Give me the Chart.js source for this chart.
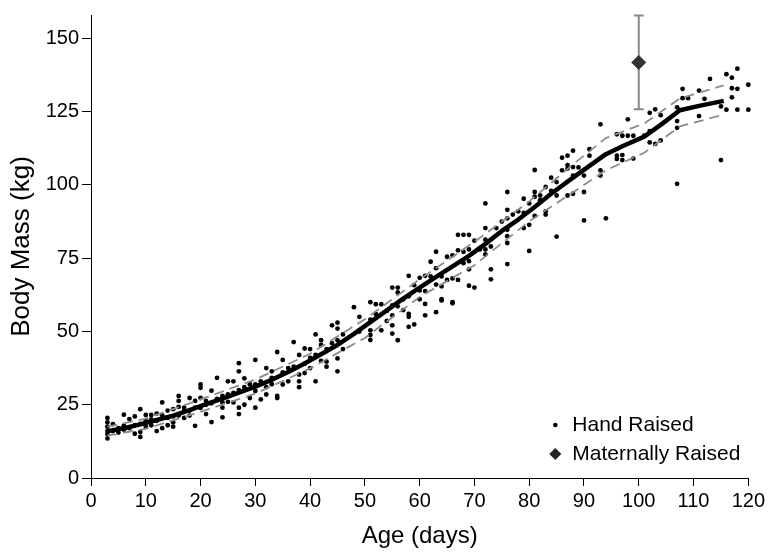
<!DOCTYPE html>
<html>
<head>
<meta charset="utf-8">
<script src="https://cdn.jsdelivr.net/npm/chart.js@4.4.1/dist/chart.umd.min.js"></script>
<style>
  html, body { margin: 0; padding: 0; background: #fff; }
  #wrap { width: 768px; height: 555px; }
</style>
</head>
<body>
<div id="wrap"><canvas id="massChart" width="768" height="555"></canvas></div>
<script>
// tick labels
const xTicks = [0, 10, 20, 30, 40, 50, 60, 70, 80, 90, 100, 110, 120];
const yTicks = [0, 25, 50, 75, 100, 125, 150];

// hand raised calves: one row of weights per age (days)
const handDays = [3, 4, 5, 6, 7, 8, 9, 10, 11, 12, 13, 14, 15, 16, 17, 18, 19, 20, 21, 22, 23, 24, 25, 26, 27, 28, 29, 30,
  31, 32, 33, 34, 35, 36, 37, 38, 39, 40, 41, 42, 43, 44, 45, 46, 48, 49, 51, 52, 53, 54, 55, 56, 57, 58, 59, 60,
  61, 62, 63, 64, 65, 66, 67, 68, 69, 70, 71, 72, 73, 74, 75, 76, 77, 78, 79, 80, 81, 82, 83, 84, 85, 86, 87, 88, 89, 90,
  91, 93, 94, 96, 97, 98, 99, 101, 102, 103, 104, 107, 108, 109, 111, 112, 113, 115, 116, 117, 118, 120];
const handMass = [
  [20.5, 19, 17.5, 16, 15, 13.5], [18.4, 16], [15.5, 17], [21.6, 17.9, 16.5], [20.1, 17],
  [15.1, 21, 18], [23.5, 15.7, 14, 18.5], [21.5, 19.5, 17.5], [21.5, 18, 20], [22, 16, 19.5],
  [25.8, 21.4, 17], [23, 18, 20.5], [23.5, 21, 19, 17.5], [28, 26.3, 24.3, 21.3], [22.8, 20.5, 24],
  [27.3, 21.3, 23], [17.8, 26.3, 24], [31.9, 30.8, 27.3, 23.9], [26.3, 21.8, 25], [29.8, 19.1, 25.5],
  [34.2, 27], [25.8, 24, 20.7, 28], [33, 28.5, 26], [33, 25.8, 29], [39.2, 36.4, 24, 21.8, 30],
  [34, 25, 31], [27.3, 32], [40.3, 31.9, 29.7, 24],
  [26.8, 33], [37.5, 31, 28.5], [36.4, 34.2, 32], [43, 28, 27.3], [40.3, 31.9, 36],
  [37.5, 33], [46.4, 38], [42, 35.3, 33, 31], [44.2, 35.8, 39], [44, 37.5, 41],
  [49, 33, 42], [47, 45.4, 40], [39.7, 38, 44], [52.1, 46], [51, 40.8, 36.4, 53, 47],
  [44, 49], [58.3], [55, 50], [60, 50.4, 48.8, 47.1, 54], [59.3, 56],
  [59.3, 50.4], [53.6, 57], [65, 58.9, 55.5, 52.1, 49.3], [65, 63.3, 58.6, 47], [57.3, 61],
  [69, 56, 55, 51.6, 62], [65.8, 52.4], [68.3, 61, 64],
  [69, 63.8, 59.4, 55.5], [73.8, 68.8], [77.2, 71.6, 66, 56.6], [68.8, 65.4, 61, 60.6], [75.5, 67.6],
  [76, 68.1, 59.6, 60], [83, 77.7, 67.6], [77.2, 73.3, 83], [83, 78, 74, 71.2, 65.6], [81, 65],
  [78], [93.7, 85.3, 81.3, 78, 76.3], [79, 71.2, 67.8], [85.3], [87.5],
  [97.6, 91.5, 88.6, 84.7, 82.5, 80.2, 73], [89.9], [91], [95.3, 90.5, 85.3], [93.7, 86.4, 77.5],
  [105.1, 97.6, 96, 89.4], [96.4, 94.8], [99.3, 91, 89.9], [102.5, 98], [101, 96.4, 82.4],
  [105, 109.3], [105.6, 96.4, 110, 106.8], [111.7, 106.1, 103.2, 97], [106], [103.2, 97.6, 87.9],
  [112.2, 110], [120.7, 105, 103.2], [88.6], [117.3, 110, 108.9], [116.8, 110.2, 108.5],
  [122.4, 116.8], [116.8, 109], [116.8], [124.6, 118.4, 114.5], [125.8, 114],
  [123.8, 115.2], [126.5, 121.8, 119.5, 100.4], [132.8, 129.6], [129.6], [132.2, 123.5],
  [129.4], [136.2], [126.8, 108.5], [137.8, 125.7], [136.6, 133, 129.9],
  [139.7, 132.8, 125.7], [134.2, 125.7]
];

// fitted growth curve
const meanAge = [3, 6, 9, 12, 15, 18, 21, 24, 27, 30, 33, 36, 39, 42, 45, 48, 51, 54, 57, 60, 63, 66, 69, 72, 75, 78,
  81, 84, 88, 91, 94, 97, 101, 104, 107.5, 111, 115.5];
const meanMass = [16, 17, 18.3, 19.8, 21.3, 23.2, 25.2, 27.1, 29.1, 31.2, 33.5, 36.2, 39.1, 42.2, 45.4, 49.2, 53.2,
  57.2, 61.2, 65, 68.6, 72.2, 75.8, 79.9, 84.3, 88.2, 92.5, 97, 102.5, 106.5, 110.5, 113.2, 116.5, 120.5, 125.5, 127, 128.7];

// confidence band
const ciAge = [3, 10, 20, 30, 40, 50, 60, 70, 80, 88, 94, 101, 107.5, 115.5];
const ciUpper = [17.5, 20.3, 26.8, 33.6, 42.4, 54.2, 67.8, 80.6, 94.4, 107, 116, 121, 129.5, 134];
const ciLower = [14.5, 16.8, 22.6, 28.8, 37.4, 47.8, 61.8, 72.6, 87.6, 97.5, 105, 111, 120, 124];

// maternally raised calf
const maternalAge = [100];
const maternalMass = [141.8];
const maternalLow = [125.8];
const maternalHigh = [157.8];

const handPoints = [];
handDays.forEach((d, i) => {
  handMass[i].forEach(m => handPoints.push({ x: d, y: m }));
});
const toXY = (xs, ys) => xs.map((x, i) => ({ x: x, y: ys[i] }));

const FONT = "'Liberation Sans', Arial, sans-serif";

// error bar for the maternally raised calf, drawn under the diamond
const errorBars = {
  id: 'errorBars',
  beforeDatasetsDraw(chart) {
    const ctx = chart.ctx;
    const xs = chart.scales.x, ys = chart.scales.y;
    ctx.save();
    ctx.strokeStyle = '#8a8a8a';
    ctx.lineWidth = 2;
    maternalAge.forEach((a, i) => {
      const x = xs.getPixelForValue(a);
      const top = ys.getPixelForValue(maternalHigh[i]);
      const bot = ys.getPixelForValue(maternalLow[i]);
      ctx.beginPath();
      ctx.moveTo(x, top); ctx.lineTo(x, bot);
      ctx.moveTo(x - 5, top); ctx.lineTo(x + 5, top);
      ctx.moveTo(x - 5, bot); ctx.lineTo(x + 5, bot);
      ctx.stroke();
    });
    ctx.restore();
  }
};

// legend in the lower right of the plot
const cornerLegend = {
  id: 'cornerLegend',
  afterDraw(chart) {
    const ctx = chart.ctx;
    const area = chart.chartArea;
    const mx = area.right - 193, tx = area.right - 176;
    const y1 = area.bottom - 53, y2 = area.bottom - 24;
    ctx.save();
    ctx.fillStyle = '#000';
    ctx.beginPath();
    ctx.arc(mx, y1, 2.3, 0, Math.PI * 2);
    ctx.fill();
    ctx.fillStyle = '#222';
    ctx.beginPath();
    ctx.moveTo(mx, y2 - 6); ctx.lineTo(mx + 6, y2); ctx.lineTo(mx, y2 + 6); ctx.lineTo(mx - 6, y2);
    ctx.closePath();
    ctx.fill();
    ctx.fillStyle = '#000';
    ctx.font = '21px ' + FONT;
    ctx.textBaseline = 'middle';
    ctx.fillText('Hand Raised', tx, y1);
    ctx.fillText('Maternally Raised', tx, y2);
    ctx.restore();
  }
};

new Chart(document.getElementById('massChart').getContext('2d'), {
  type: 'scatter',
  data: {
    datasets: [
      {
        label: 'Maternally Raised',
        data: toXY(maternalAge, maternalMass),
        pointStyle: 'rectRot',
        pointRadius: 7,
        backgroundColor: '#333',
        borderColor: '#333',
        order: 0
      },
      {
        label: 'Mean',
        data: toXY(meanAge, meanMass),
        showLine: true,
        borderColor: '#000',
        borderWidth: 4.5,
        borderJoinStyle: 'round',
        pointRadius: 0,
        tension: 0,
        order: 1
      },
      {
        label: 'Upper',
        data: toXY(ciAge, ciUpper),
        showLine: true,
        borderColor: '#8c8c8c',
        borderWidth: 1.8,
        borderDash: [10, 6],
        pointRadius: 0,
        order: 2
      },
      {
        label: 'Lower',
        data: toXY(ciAge, ciLower),
        showLine: true,
        borderColor: '#8c8c8c',
        borderWidth: 1.8,
        borderDash: [10, 6],
        pointRadius: 0,
        order: 2
      },
      {
        label: 'Hand Raised',
        data: handPoints,
        pointStyle: 'circle',
        pointRadius: 2.4,
        borderWidth: 0,
        backgroundColor: '#000',
        clip: false,
        order: 3
      }
    ]
  },
  options: {
    responsive: false,
    animation: false,
    layout: { padding: { top: 10, right: 19, left: 0, bottom: 0 } },
    plugins: {
      legend: { display: false },
      tooltip: { enabled: false }
    },
    scales: {
      x: {
        type: 'linear',
        min: 0,
        max: 120,
        afterBuildTicks: s => { s.ticks = xTicks.map(v => ({ value: v })); },
        afterFit: s => { s.height = 77; },
        ticks: { color: '#000', font: { family: FONT, size: 20 }, padding: 3, maxRotation: 0 },
        grid: { drawOnChartArea: false, drawTicks: true, tickLength: 8, color: '#000' },
        border: { color: '#000', width: 1 },
        title: { display: true, text: 'Age (days)', color: '#000', font: { family: FONT, size: 24 }, padding: { top: 0, bottom: 4 } }
      },
      y: {
        type: 'linear',
        min: 0,
        max: 158,
        afterBuildTicks: s => { s.ticks = yTicks.map(v => ({ value: v })); },
        afterFit: s => { s.width = 91; },
        ticks: { color: '#000', font: { family: FONT, size: 20 }, padding: 3 },
        grid: { drawOnChartArea: false, drawTicks: true, tickLength: 9, color: '#000' },
        border: { color: '#000', width: 1 },
        title: { display: true, text: 'Body Mass (kg)', color: '#000', font: { family: FONT, size: 26 }, padding: { top: 6, bottom: 0 } }
      }
    }
  },
  plugins: [errorBars, cornerLegend]
});
</script>
</body>
</html>
